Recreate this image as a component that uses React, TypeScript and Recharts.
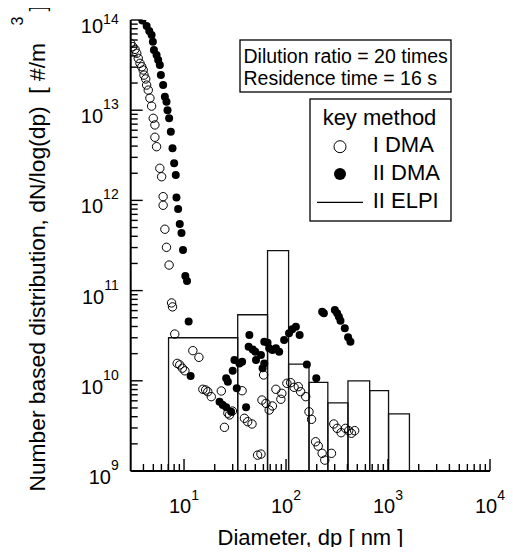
import React from 'react';
import { ComposedChart, Scatter, XAxis, YAxis, ReferenceArea } from 'recharts';

const FONT = '"Liberation Sans", Arial, Helvetica, sans-serif';

// I DMA (open circles): diameter [nm] and dN/log(dp) [#/m3]
const dma1Diameter = [
  3.0, 3.14, 3.31, 3.44, 3.56, 3.7, 3.85, 3.98, 4.05, 4.21, 4.3, 4.46, 4.63, 4.81, 4.99, 5.18, 5.18, 5.38,
  5.79, 6.03, 6.24, 6.24, 6.49, 6.73, 7.14, 7.55, 7.71, 8.11, 8.57, 9.08, 9.64, 10.2, 12.2, 14.0, 15.3, 16.3,
  17.1, 18.5, 23.2, 24.9, 26.9, 27.9, 29.8, 37.1, 39.1, 42.1, 46.4, 52.6, 56.8, 60.3, 58.1, 63.6, 68.4, 73.6,
  79.6, 89.0, 91.0, 102, 111, 120, 132, 139, 156, 168, 178, 195, 207, 226, 240, 279, 294, 317, 347, 383, 412,
  438, 471,
];
const dma1Number = [
  5.5e13, 5.06e13, 4.73e13, 4.28e13, 3.76e13, 3.31e13, 3.03e13, 2.79e13, 2.45e13, 2.22e13, 1.9e13, 1.67e13,
  1.36e13, 1.11e13, 8.13e12, 6.86e12, 5.01e12, 3.94e12, 2.27e12, 1.83e12, 1.1e12, 8.83e11, 4.79e11, 3.02e11,
  1.92e11, 7.3e10, 6.6e10, 3.3e10, 1.56e10, 1.5e10, 1.38e10, 1.29e10, 2.16e10, 1.82e10, 8.05e9, 7.91e9,
  7.57e9, 6.67e9, 7.71e9, 3.05e9, 4.37e9, 4.18e9, 4.62e9, 7.76e9, 3.84e9, 3.52e9, 3.32e9, 1.5e9, 1.54e9,
  1.16e10, 6.12e9, 5.62e9, 4.74e9, 5.26e9, 8.05e9, 6.24e9, 7.26e9, 9.38e9, 9.53e9, 8.47e9, 8.61e9, 7.57e9,
  6.67e9, 4.54e9, 3.74e9, 2.11e9, 1.89e9, 1.57e9, 1.32e9, 1.57e9, 3.32e9, 2.97e9, 2.66e9, 2.97e9, 2.8e9,
  2.62e9, 2.8e9,
];

// II DMA (filled circles)
const dma2Diameter = [
  3.9, 4.3, 4.56, 4.81, 4.95, 5.07, 5.38, 5.58, 5.79, 5.93, 6.24, 6.49, 6.73, 6.89, 7.14, 7.42, 7.71, 8.0,
  8.3, 8.43, 8.75, 9.08, 9.44, 9.77, 10.3, 10.7, 11.1, 11.6, 22.3, 24.0, 25.9, 29.0, 25.9, 26.9, 30.0, 31.2,
  32.9, 34.9, 37.1, 40.6, 43.7, 43.0, 47.1, 50.0, 50.8, 56.8, 61.2, 65.9, 68.4, 73.6, 79.6, 85.7, 61.2, 58.9,
  95.8, 107, 115, 125, 136, 160, 198, 226, 235, 301, 317, 330, 342, 377, 406, 428,
];
const dma2Number = [
  9.9e13, 8.58e13, 7.55e13, 6.82e13, 5.74e13, 4.65e13, 4.09e13, 3.6e13, 3.17e13, 2.45e13, 1.9e13, 1.41e13,
  1.24e13, 1.0e13, 8.13e12, 5.78e12, 3.78e12, 2.58e12, 1.91e12, 1.08e12, 8.03e11, 5.47e11, 4.36e11, 2.82e11,
  1.45e11, 1.28e11, 4.54e10, 1.13e10, 5.86e9, 5.4e9, 5.08e9, 4.54e9, 1.07e10, 9.77e9, 1.29e10, 1.7e10,
  8.26e9, 1.56e10, 1.63e10, 5.08e9, 3.22e10, 2.39e10, 2.23e10, 2.1e10, 1.7e10, 1.93e10, 2.71e10, 2.64e10,
  2.29e10, 2.19e10, 2.29e10, 2.1e10, 1.56e10, 1.38e10, 2.83e10, 3.37e10, 3.72e10, 3.98e10, 3.22e10, 1.52e10,
  1.07e10, 5.83e10, 5.6e10, 6.1e10, 5.6e10, 5.14e10, 4.63e10, 3.82e10, 3.03e10, 2.71e10,
];

// II ELPI (histogram): stage edges [nm] and values
const elpiEdges = [7.05, 33.6, 65.9, 106, 168, 257, 405, 661, 1012, 1622];
const elpiNumber = [3.0e10, 5.4e10, 2.77e11, 1.53e10, 9.6e9, 5.7e9, 1.0e10, 7.8e9, 4.3e9];

const xDomain = [3, 10000];
const yDomain = [1e9, 1e14];
const xMajorTicks = [10, 100, 1000, 10000];
const yMajorTicks = [1e9, 1e10, 1e11, 1e12, 1e13, 1e14];

const conditionLines = ['Dilution ratio = 20 times', 'Residence time = 16 s'];
const legendTitle = 'key method';
const seriesNames = ['I DMA', 'II DMA', 'II ELPI'];
const xTitle = 'Diameter, dp [ nm ]';
const yTitleMain = 'Number based distribution, dN/log(dp)  [ #/m';
const yTitleSup = '3';
const yTitleEnd = ']';

const withMinors = (majors: number[], lo: number, hi: number) => {
  const out: number[] = [];
  majors.forEach((m) => {
    const dec = m / 10;
    for (let k = 2; k <= 9; k++) {
      const v = k * dec;
      if (v > lo && v < hi) out.push(v);
    }
    out.push(m);
  });
  return out.filter((v) => v >= lo && v <= hi);
};
const xTicks = withMinors(xMajorTicks, xDomain[0], xDomain[1]);
const yTicks = withMinors(yMajorTicks, yDomain[0], yDomain[1]);

const dma1 = dma1Diameter.map((d, i) => ({ d, n: dma1Number[i] }));
const dma2 = dma2Diameter.map((d, i) => ({ d, n: dma2Number[i] }));

const expOf = (v: number) => Math.round(Math.log10(v));
const isMajor = (v: number) => Math.abs(Math.log10(v) - expOf(v)) < 1e-9;
const MAJOR = 12;
const MINOR = 7;
const TICKW = 1.4;

const BottomTick = (p: any) => {
  const v = p.payload.value;
  const maj = isMajor(v);
  return (
    <g>
      <line x1={p.x} x2={p.x} y1={p.y} y2={p.y - (maj ? MAJOR : MINOR)} stroke="#000" strokeWidth={TICKW} />
      {maj && (
        <text x={p.x} y={p.y + 42} textAnchor="middle" fontFamily={FONT} fontSize={20} fill="#000">
          <tspan>10</tspan>
          <tspan dy={-13} fontSize={14}>{expOf(v)}</tspan>
        </text>
      )}
    </g>
  );
};
const TopTick = (p: any) => {
  const v = p.payload.value;
  const maj = isMajor(v);
  return <line x1={p.x} x2={p.x} y1={p.y} y2={p.y + (maj ? MAJOR : MINOR)} stroke="#000" strokeWidth={TICKW} />;
};
const LeftTick = (p: any) => {
  const v = p.payload.value;
  const maj = isMajor(v);
  const supDy = v >= yDomain[1] ? -9 : -14;
  return (
    <g>
      <line x1={p.x} x2={p.x + (maj ? MAJOR : MINOR)} y1={p.y} y2={p.y} stroke="#000" strokeWidth={TICKW} />
      {maj && (
        <text x={p.x - 12} y={p.y + 13} textAnchor="end" fontFamily={FONT} fontSize={20} fill="#000">
          <tspan>10</tspan>
          <tspan dy={supDy} fontSize={14}>{expOf(v)}</tspan>
        </text>
      )}
    </g>
  );
};
const RightTick = (p: any) => {
  const v = p.payload.value;
  const maj = isMajor(v);
  return <line x1={p.x} x2={p.x - (maj ? MAJOR : MINOR)} y1={p.y} y2={p.y} stroke="#000" strokeWidth={TICKW} />;
};

const OpenDot = (p: any) => <circle cx={p.cx} cy={p.cy} r={4.2} fill="none" stroke="#000" strokeWidth={1} />;
const FilledDot = (p: any) => <circle cx={p.cx} cy={p.cy} r={4} fill="#000" />;

const W = 497;
const H = 539;
const axisLine = { stroke: '#000', strokeWidth: 2 };

export default function App() {
  return (
    <div style={{ position: 'relative', width: W, height: H, fontFamily: FONT }}>
      <ComposedChart width={W} height={H} margin={{ top: 12, right: 15, bottom: 0, left: 0 }}>
        <XAxis xAxisId="b" dataKey="d" type="number" scale="log" domain={xDomain} allowDataOverflow
          ticks={xTicks} interval={0} tickSize={0} tickMargin={0} tickLine={false} axisLine={axisLine}
          height={76} tick={BottomTick} />
        <XAxis xAxisId="t" orientation="top" dataKey="d" type="number" scale="log" domain={xDomain} allowDataOverflow
          ticks={xTicks} interval={0} tickSize={0} tickMargin={0} tickLine={false} axisLine={axisLine}
          height={0} tick={TopTick} />
        <YAxis yAxisId="l" dataKey="n" type="number" scale="log" domain={yDomain} allowDataOverflow
          ticks={yTicks} interval={0} tickSize={0} tickMargin={0} tickLine={false} axisLine={axisLine}
          width={122.7} tick={LeftTick} />
        <YAxis yAxisId="r" orientation="right" dataKey="n" type="number" scale="log" domain={yDomain} allowDataOverflow
          ticks={yTicks} interval={0} tickSize={0} tickMargin={0} tickLine={false} axisLine={axisLine}
          width={0} tick={RightTick} />
        {elpiNumber.map((v, i) => (
          <ReferenceArea key={i} xAxisId="b" yAxisId="l" x1={elpiEdges[i]} x2={elpiEdges[i + 1]} y1={yDomain[0]} y2={v}
            fill="none" stroke="#111" strokeWidth={1.3} ifOverflow="visible" />
        ))}
        <Scatter name={seriesNames[0]} data={dma1} xAxisId="b" yAxisId="l" dataKey="n" shape={OpenDot} isAnimationActive={false} />
        <Scatter name={seriesNames[1]} data={dma2} xAxisId="b" yAxisId="l" dataKey="n" shape={FilledDot} isAnimationActive={false} />
      </ComposedChart>
      <svg width={W} height={H} style={{ position: 'absolute', left: 0, top: 0, overflow: 'visible', pointerEvents: 'none' }}
        fontFamily={FONT}>
        <text transform="rotate(-90 37 35)" x={37} y={35} textAnchor="end" fontSize={22.8} fill="#000"
          style={{ whiteSpace: 'pre' }}>{yTitleMain}</text>
        <text transform="rotate(-90 15 17.5)" x={15} y={17.5} fontSize={16} fill="#000">{yTitleSup}</text>
        <text transform="rotate(-90 37 3.5)" x={37} y={3.5} fontSize={22.8} fill="#000">{yTitleEnd}</text>
        <text x={302.5} y={537} textAnchor="middle" fontSize={22} fill="#000">{xTitle}</text>

        <rect x={232} y={32} width={211} height={52} fill="#fff" stroke="#000" strokeWidth={1.3} />
        <text x={235.5} y={54.7} fontSize={19.5} fill="#000">{conditionLines[0]}</text>
        <text x={235.5} y={77} fontSize={19.5} fill="#000">{conditionLines[1]}</text>

        <rect x={302} y={91} width={141} height={122} fill="#fff" stroke="#000" strokeWidth={1.3} />
        <text x={371.5} y={117} textAnchor="middle" fontSize={22} fill="#000">{legendTitle}</text>
        <circle cx={332} cy={138.7} r={6} fill="#fff" stroke="#000" strokeWidth={1} />
        <text x={364.7} y={143.7} fontSize={22} fill="#000">{seriesNames[0]}</text>
        <circle cx={332} cy={166} r={6} fill="#000" />
        <text x={364.7} y={172} fontSize={22} fill="#000">{seriesNames[1]}</text>
        <line x1={309} x2={355} y1={194.3} y2={194.3} stroke="#000" strokeWidth={1.3} />
        <text x={364.7} y={199.7} fontSize={22} fill="#000">{seriesNames[2]}</text>
      </svg>
    </div>
  );
}
